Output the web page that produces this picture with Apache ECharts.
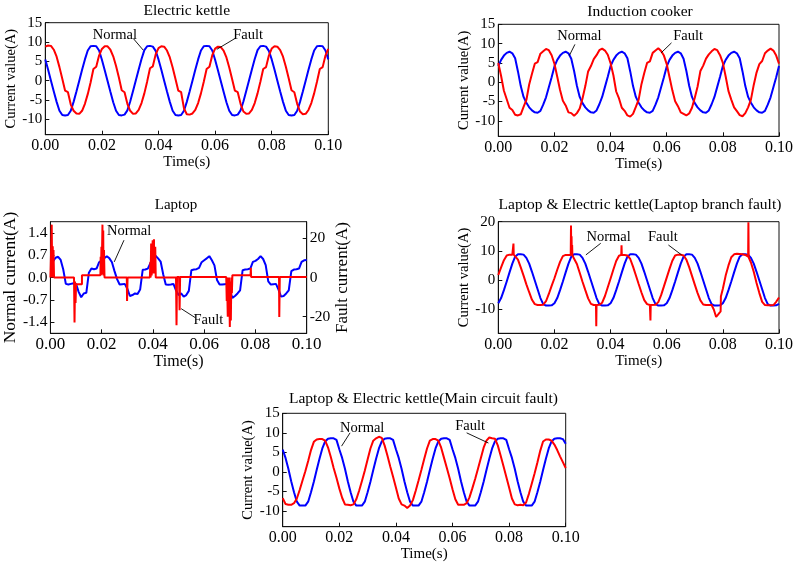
<!DOCTYPE html>
<html>
<head>
<meta charset="utf-8">
<script src="https://cdn.jsdelivr.net/npm/echarts@6/dist/echarts.min.js"></script>
<style>html,body{margin:0;padding:0;background:#fff}#c{width:796px;height:563px}</style>
</head>
<body>
<div id="c"></div>
<script>
const FONT = '"Liberation Serif","Times New Roman",serif';

// sample grid in milliseconds (0..100 ms, 1 ms step)
const TIME_MS = Array.from({length: 101}, (_, i) => i);

// x-axis tick labels (seconds)
const X_TICKS = [0, 0.02, 0.04, 0.06, 0.08, 0.10];
const Y_TICKS_15 = [-10, -5, 0, 5, 10, 15];
const Y_TICKS_20 = [-10, 0, 10, 20];
const Y_TICKS_LAPTOP = [-1.4, -0.7, 0, 0.7, 1.4];
const Y_TICKS_LAPTOP_R = [-20, 0, 20];

// ---- Electric kettle ----
const kettleNormal = [
 5.5, 2.8, 0.0, -2.8, -5.5, -7.8, -8.9, -9.0, -8.9, -7.8, -5.5, -2.8, 0.0, 2.8, 5.5, 7.8, 8.9, 9.0, 8.9, 7.8,
 5.4, 2.7, -0.1, -2.9, -5.6, -7.8, -8.9, -9.0, -8.8, -7.7, -5.4, -2.7, 0.1, 2.9, 5.6, 7.9, 8.9, 9.0, 8.8, 7.7,
 5.5, 2.8, 0.0, -2.8, -5.5, -7.8, -8.9, -9.0, -8.9, -7.8, -5.5, -2.8, 0.0, 2.8, 5.5, 7.8, 8.9, 9.0, 8.9, 7.8,
 5.4, 2.7, -0.1, -2.9, -5.6, -7.8, -8.9, -9.0, -8.8, -7.7, -5.4, -2.7, 0.1, 2.9, 5.6, 7.9, 8.9, 9.0, 8.8, 7.7,
 5.5, 2.8, 0.0, -2.8, -5.5, -7.8, -8.9, -9.0, -8.9, -7.8, -5.5, -2.8, 0.0, 2.8, 5.5, 7.8, 8.9, 9.0, 8.9, 7.8,
 5.5
];
const kettleFault = [
 8.8, 9.1, 9.0, 8.0, 6.2, 3.5, 0.5, -2.6, -3.0, -6.2, -7.8, -8.5, -8.6, -7.8, -6.0, -3.5, -0.5, 3.0, 3.6, 6.5,
 8.2, 8.9, 8.9, 8.0, 6.3, 3.8, 0.8, -2.5, -3.0, -6.0, -7.8, -8.6, -8.5, -7.6, -5.8, -3.3, -0.2, 3.2, 3.7, 6.8,
 8.4, 8.9, 8.8, 7.8, 6.0, 3.4, 0.4, -2.6, -3.0, -7.2, -8.7, -8.8, -8.5, -7.6, -5.8, -3.3, -0.3, 3.0, 3.6, 6.6,
 8.3, 8.8, 8.7, 7.8, 6.0, 3.4, 0.4, -2.6, -3.0, -6.0, -8.0, -8.6, -8.5, -7.6, -5.8, -3.3, -0.3, 3.0, 3.5, 6.5,
 8.3, 8.9, 8.8, 7.9, 6.2, 3.6, 0.6, -2.5, -3.0, -6.0, -8.0, -8.7, -8.6, -7.6, -5.8, -3.3, -0.3, 3.0, 3.5, 6.5,
 8.2
];

// ---- Induction cooker ----
const cookerNormal = [
 4.2, 5.8, 6.9, 7.6, 7.9, 7.5, 6.2, 2.8, -1.0, -3.8, -5.3, -6.5, -7.3, -7.8, -7.9, -7.4, -5.8, -3.9, -1.3, 1.3,
 4.1, 5.8, 6.9, 7.6, 7.9, 7.5, 6.1, 2.9, -0.9, -3.8, -5.4, -6.5, -7.3, -7.8, -7.9, -7.3, -5.7, -3.8, -1.2, 1.4,
 4.2, 5.8, 6.9, 7.6, 7.9, 7.5, 6.2, 2.8, -1.0, -3.8, -5.3, -6.5, -7.3, -7.8, -7.9, -7.4, -5.8, -3.9, -1.3, 1.3,
 4.1, 5.8, 6.9, 7.6, 7.9, 7.5, 6.1, 2.9, -0.9, -3.8, -5.4, -6.5, -7.3, -7.8, -7.9, -7.3, -5.7, -3.8, -1.2, 1.4,
 4.2, 5.8, 6.9, 7.6, 7.9, 7.5, 6.2, 2.8, -1.0, -3.8, -5.3, -6.5, -7.3, -7.8, -7.9, -7.4, -5.8, -3.9, -1.3, 1.3,
 4.2
];
const cookerFault = [
 5.0, 1.6, -2.2, -4.4, -6.6, -7.2, -8.4, -8.6, -8.3, -6.4, -4.6, -0.6, 2.2, 4.8, 5.2, 7.4, 8.0, 8.6, 8.3, 7.0,
 4.8, 1.4, -2.0, -4.8, -6.0, -7.8, -8.0, -8.7, -8.0, -6.8, -4.2, -1.0, 2.8, 4.2, 6.0, 7.0, 8.3, 8.7, 8.2, 7.1,
 4.9, 1.8, -2.4, -4.2, -6.6, -7.4, -8.6, -8.9, -8.2, -6.4, -4.5, -0.5, 2.4, 5.0, 5.4, 7.6, 8.2, 8.8, 8.1, 6.9,
 4.7, 1.3, -2.1, -4.9, -6.2, -7.8, -8.2, -8.6, -8.1, -6.6, -4.0, -1.1, 2.9, 4.3, 6.1, 7.2, 8.0, 8.6, 8.3, 7.0,
 5.0, 1.5, -2.3, -4.5, -6.5, -7.5, -8.5, -8.8, -8.0, -6.5, -4.5, -0.7, 2.5, 4.7, 5.5, 7.5, 8.2, 8.7, 8.2, 6.9,
 4.8
];

// ---- Laptop ----
const laptopNormal = [
 0.45, 0.5, 0.62, 0.65, 0.55, 0.25, -0.2, -0.22, -0.2, -0.18, -0.2, -0.45, -0.62, -0.5, -0.48, 0.15, 0.28, 0.26, 0.28, 0.48,
 0.54, 0.6, 0.67, 0.6, 0.48, 0.2, -0.05, -0.22, -0.21, -0.2, -0.35, -0.58, -0.55, -0.5, -0.52, -0.38, 0.24, 0.25, 0.28, 0.45,
 0.54, 0.68, 0.6, 0.5, 0.1, -0.22, -0.23, -0.22, -0.2, -0.4, -0.55, -0.5, -0.6, -0.55, -0.42, 0.23, 0.25, 0.26, 0.3, 0.48,
 0.54, 0.6, 0.67, 0.54, 0.38, -0.08, -0.22, -0.22, -0.21, -0.2, -0.42, -0.64, -0.58, -0.5, -0.4, 0.23, 0.25, 0.26, 0.28, 0.49,
 0.52, 0.58, 0.67, 0.58, 0.39, -0.12, -0.22, -0.21, -0.2, -0.38, -0.6, -0.58, -0.5, -0.4, 0.2, 0.25, 0.26, 0.28, 0.49, 0.54,
 0.55
];
// [time ms, current A]
const laptopFault = [
 [0,0],[0.4,0],[0.5,27],[0.7,0],[0.9,16],[1.0,0],[1.2,14],[1.4,0],
 [9.2,0],[9.4,-23],[9.6,-2],[9.8,-13],[10.0,-3.4],[12.3,-3.4],[12.3,1.2],
 [19.5,1.2],[19.6,10.6],[19.7,1.2],[19.9,15.7],[20.0,1.5],[20.3,27],[20.4,2],[20.6,24],[20.7,1],[20.9,14],[21.1,0],
 [29.8,0],[29.9,-12],[30.1,0],
 [38.8,0],[39.0,8],[39.1,0],[39.3,17.4],[39.5,1],[39.9,19],[40.0,2],[40.4,19.5],[40.5,2],[40.9,15.7],[41.1,0],
 [49.0,0],[49.2,-24.4],[49.4,0.3],[50.2,0.3],[50.4,-16.7],[50.6,0.3],
 [68.6,0.3],[68.8,-12],[68.9,0],[69.2,-20],[69.3,0],[69.6,-17],[69.7,0],[70.0,-25.3],[70.2,-2],[70.4,-22],[70.6,0],[70.8,-8],[71.0,1.2],
 [78.1,1.2],[78.2,5],[78.3,0.3],
 [89.2,0.3],[89.3,-20.2],[89.5,0.3],[100,0.3]
];

// ---- Laptop & Electric kettle (Laptop branch fault) ----
const branchNormal = [
 -8.0, -6.2, -3.5, -0.5, 2.6, 5.6, 8.0, 8.8, 8.8, 8.7, 7.6, 5.6, 2.8, -0.2, -3.2, -6.2, -8.3, -8.8, -8.8, -8.7,
 -8.0, -6.2, -3.5, -0.5, 2.6, 5.6, 8.0, 8.8, 8.8, 8.7, 7.6, 5.6, 2.8, -0.2, -3.2, -6.2, -8.3, -8.8, -8.8, -8.7,
 -8.0, -6.2, -3.5, -0.5, 2.6, 5.6, 8.0, 8.8, 8.8, 8.7, 7.6, 5.6, 2.8, -0.2, -3.2, -6.2, -8.3, -8.8, -8.8, -8.7,
 -8.0, -6.2, -3.5, -0.5, 2.6, 5.6, 8.0, 8.8, 8.8, 8.7, 7.6, 5.6, 2.8, -0.2, -3.2, -6.2, -8.3, -8.8, -8.8, -8.7,
 -8.0, -6.2, -3.5, -0.5, 2.6, 5.6, 8.0, 8.8, 8.8, 8.7, 7.6, 5.6, 2.8, -0.2, -3.2, -6.2, -8.3, -8.8, -8.8, -8.7,
 -8.2
];
// [time ms, current A]
const branchFault = [
 [0,1.7],[1,4.3],[2,6.8],[3,8.4],[4,8.7],[5,8.7],[5.3,8.7],[5.4,12.5],[5.5,8.7],[6,8.5],[7,7.0],[8,4.3],[9,1.5],
 [10,-1.5],[11,-4.2],[12,-6.8],[13,-8.3],[14,-8.6],[15,-8.6],[16,-8.5],[17,-7.3],[18,-4.8],[19,-2.0],
 [20,0.6],[21,3.5],[22,6.2],[23,8.2],[24,8.6],[25,8.6],[25.8,8.6],[25.9,18.7],[26.0,8.5],[26.1,15.0],[26.2,8.5],[26.3,12.0],[26.4,8.4],
 [27,8.0],[28,5.5],[29,2.5],[30,-0.6],[31,-3.5],[32,-6.3],[33,-8.2],[34,-8.6],[34.8,-8.6],[34.9,-15.9],[35.0,-8.6],
 [36,-8.5],[37,-7.8],[38,-5.5],[39,-2.5],[40,0.5],[41,3.6],[42,6.5],[43,8.3],[43.8,8.6],[43.9,11.9],[44.0,8.6],
 [45,8.6],[46,8.4],[47,7.2],[48,4.6],[49,1.6],[50,-1.4],[51,-4.3],[52,-6.9],[53,-8.3],[54,-8.6],[54.1,-8.6],[54.2,-13.9],[54.3,-8.6],
 [55,-8.6],[56,-8.5],[57,-7.6],[58,-5.2],[59,-2.2],[60,0.8],[61,3.8],[62,6.6],[63,8.4],[64,8.7],[65,8.7],[66,8.4],
 [67,7.0],[68,4.4],[69,1.4],[70,-1.6],[71,-4.5],[72,-7.0],[73,-8.4],[74,-8.6],[75,-8.6],[76,-8.6],
 [76.8,-10.2],[77.6,-12.7],[78.2,-12.0],[79.2,-10.8],[79.3,-5.7],[80,-3.0],[81,1.5],[82,5.0],[83,7.8],[84,8.8],
 [85,9.0],[86,8.9],[87,8.8],[88,8.6],[89,8.0],[89.1,19.8],[89.2,7.8],[90,6.0],[91,2.8],[92,-1.0],[93,-4.5],
 [94,-7.5],[95,-8.6],[96,-8.7],[97,-8.7],[98,-8.6],[99,-7.5],[100,-6.0]
];

// ---- Laptop & Electric kettle (Main circuit fault) ----
const mainNormal = [
 5.7, 3.6, 0.8, -2.4, -5.2, -7.6, -8.6, -8.6, -8.6, -7.6, -5.2, -2.5, 0.5, 3.4, 6.0, 7.8, 8.5, 8.6, 8.6, 8.2,
 5.8, 3.6, 0.8, -2.4, -5.2, -7.6, -8.6, -8.6, -8.6, -7.6, -5.2, -2.5, 0.5, 3.4, 6.0, 7.8, 8.5, 8.6, 8.6, 8.2,
 5.8, 3.6, 0.8, -2.4, -5.2, -7.6, -8.6, -8.6, -8.6, -7.6, -5.2, -2.5, 0.5, 3.4, 6.0, 7.8, 8.5, 8.6, 8.6, 8.2,
 5.8, 3.6, 0.8, -2.4, -5.2, -7.6, -8.6, -8.6, -8.6, -7.6, -5.2, -2.5, 0.5, 3.4, 6.0, 7.8, 8.5, 8.6, 8.6, 8.2,
 5.8, 3.6, 0.8, -2.4, -5.2, -7.6, -8.6, -8.6, -8.6, -7.6, -5.2, -2.5, 0.5, 3.4, 6.0, 7.8, 8.5, 8.6, 8.6, 8.4,
 7.2
];
const mainFault = [
 -6.7, -8.2, -8.4, -8.4, -8.0, -6.8, -4.6, -2.2, 0.2, 2.8, 5.6, 7.7, 8.3, 8.4, 8.4, 8.0, 6.3, 3.8, 1.0, -1.5,
 -4.2, -6.6, -8.3, -8.4, -8.5, -8.3, -7.0, -4.8, -2.3, 0.3, 3.2, 6.0, 8.0, 8.6, 9.0, 8.7, 6.8, 4.2, 1.4, -1.2,
 -4.0, -6.8, -8.3, -8.6, -9.2, -8.6, -7.2, -4.8, -2.2, 0.5, 3.3, 6.0, 8.0, 8.4, 8.4, 8.0, 6.2, 3.6, 1.0, -1.6,
 -4.4, -7.0, -8.4, -8.4, -8.4, -8.0, -6.5, -4.2, -1.8, 0.8, 3.5, 6.2, 8.0, 8.8, 8.6, 8.5, 6.8, 4.2, 1.5, -1.2,
 -4.0, -6.8, -8.3, -8.5, -8.4, -8.5, -7.8, -5.6, -3.0, -0.4, 2.4, 5.4, 7.8, 8.3, 8.3, 8.0, 7.0, 5.6, 4.0, 2.5,
 1.0
];

// ---------------- helpers ----------------
const onGrid = vals => TIME_MS.map((t, i) => [t / 1000, vals[i]]);
const msPairs = list => list.map(p => [p[0] / 1000, p[1]]);

const BLUE = '#0000ff', RED = '#ff0000';

const grids = [
  {left: 45.3, top: 22.7, width: 283, height: 112},
  {left: 498.3, top: 24.3, width: 283.4, height: 112},
  {left: 45.3, top: 221.7, width: 261.4, height: 111.6},
  {left: 498.3, top: 221.7, width: 283.4, height: 111.6},
  {left: 282.7, top: 413.3, width: 283, height: 113.4}
].map(g => Object.assign({show: true, borderColor: '#111', borderWidth: 1, backgroundColor: 'transparent'}, g));

function xAx(gi, fs, nfs, gap) {
  return {
    type: 'value', gridIndex: gi, min: 0, max: 0.1, interval: 0.02,
    name: 'Time(s)', nameLocation: 'middle', nameGap: gap,
    nameTextStyle: {fontFamily: FONT, fontSize: nfs, color: '#000'},
    axisLine: {show: true, onZero: false, lineStyle: {color: '#111', width: 1}},
    axisTick: {show: true, inside: true, length: 4, customValues: X_TICKS, lineStyle: {color: '#111'}},
    axisLabel: {fontFamily: FONT, fontSize: fs, color: '#000', margin: 3, customValues: X_TICKS,
      formatter: v => v.toFixed(2)},
    splitLine: {show: false}
  };
}
function yAx(gi, min, max, ticks, dec, name, fs, nfs, gap, pos) {
  return {
    type: 'value', gridIndex: gi, min: min, max: max, position: pos || 'left',
    name: name, nameLocation: 'middle', nameGap: gap, nameRotate: 90,
    nameTextStyle: {fontFamily: FONT, fontSize: nfs, color: '#000'},
    axisLine: {show: true, onZero: false, lineStyle: {color: '#111', width: 1}},
    axisTick: {show: true, inside: true, length: 4, customValues: ticks, lineStyle: {color: '#111'}},
    axisLabel: {fontFamily: FONT, fontSize: fs, color: '#000', margin: 3, customValues: ticks,
      formatter: v => dec ? v.toFixed(dec) : String(v)},
    splitLine: {show: false}
  };
}

function note(label, text, line, fs) {
  return {
    markLine: {
      silent: true, animation: false, symbol: ['none', 'none'],
      lineStyle: {color: '#000', width: 0.9, type: 'solid'},
      label: {show: false}, emphasis: {disabled: true},
      data: [[{coord: line[0]}, {coord: line[1]}]]
    },
    markPoint: {
      silent: true, animation: false, symbol: 'circle', symbolSize: 0,
      itemStyle: {color: 'rgba(0,0,0,0)'},
      label: {show: true, position: 'inside', formatter: '{b}', color: '#000',
        fontFamily: FONT, fontSize: fs || 14.5},
      data: [{name: label, coord: text}]
    }
  };
}

function line(name, data, color, xi, yi, extra) {
  return Object.assign({
    name: name, type: 'line', xAxisIndex: xi, yAxisIndex: yi, data: data,
    showSymbol: false, symbol: 'none', animation: false,
    lineStyle: {color: color, width: 2}, itemStyle: {color: color},
    emphasis: {disabled: true}
  }, extra || {});
}

function ttl(text, x, y, fs) {
  return {text: text, left: x, top: y, textAlign: 'center', textVerticalAlign: 'middle', padding: 0,
    textStyle: {fontFamily: FONT, fontSize: fs || 15.5, fontWeight: 'normal', color: '#000'}};
}

const option = {
  backgroundColor: '#fff',
  animation: false,
  title: [
    ttl('Electric kettle', 186.8, 10.5),
    ttl('Induction cooker', 640, 11.5),
    ttl('Laptop', 176, 205, 15),
    ttl('Laptop & Electric kettle(Laptop branch fault)', 640, 204.5),
    ttl('Laptop & Electric kettle(Main circuit fault)', 423.5, 398.5)
  ],
  grid: grids,
  xAxis: [xAx(0, 16, 15, 18), xAx(1, 16, 15, 20), xAx(2, 17, 16, 18), xAx(3, 16, 15, 18), xAx(4, 16, 15, 18)],
  yAxis: [
    yAx(0, -14, 15, Y_TICKS_15, 0, 'Current value(A)', 15, 14.5, 23),
    yAx(1, -14, 15, Y_TICKS_15, 0, 'Current value(A)', 15, 14.5, 23),
    yAx(2, -1.75, 1.75, Y_TICKS_LAPTOP, 1, 'Normal current(A)', 15.5, 17.5, 26),
    yAx(2, -28.5, 28.5, Y_TICKS_LAPTOP_R, 0, 'Fault current(A)', 15.5, 17, 25, 'right'),
    yAx(3, -18.3, 20, Y_TICKS_20, 0, 'Current value(A)', 15, 14.5, 23),
    yAx(4, -14, 15, Y_TICKS_15, 0, 'Current value(A)', 15, 14.5, 22)
  ],
  series: [
    line('Normal', onGrid(kettleNormal), BLUE, 0, 0,
      note('Normal', [0.0246, 11.8], [[0.0311, 10.9], [0.0346, 7.9]])),
    line('Fault', onGrid(kettleFault), RED, 0, 0,
      note('Fault', [0.0717, 11.8], [[0.0670, 10.9], [0.0606, 8.1]])),
    line('Normal', onGrid(cookerNormal), BLUE, 1, 1,
      note('Normal', [0.0289, 11.9], [[0.0273, 9.8], [0.0253, 6.9]])),
    line('Fault', onGrid(cookerFault), RED, 1, 1,
      note('Fault', [0.0676, 11.9], [[0.0617, 10.2], [0.0580, 7.6]])),
    line('Normal', onGrid(laptopNormal), BLUE, 2, 2,
      note('Normal', [0.0307, 1.45], [[0.0287, 1.17], [0.0249, 0.49]])),
    line('Fault', msPairs(laptopFault), RED, 2, 3,
      note('Fault', [0.0616, -21.9], [[0.0565, -20.5], [0.0510, -15.9]])),
    line('Normal', onGrid(branchNormal), BLUE, 3, 4,
      note('Normal', [0.0393, 14.8], [[0.0365, 12.6], [0.0312, 8.6]])),
    line('Fault', msPairs(branchFault), RED, 3, 4,
      note('Fault', [0.0586, 14.8], [[0.0606, 12.0], [0.0653, 8.6]])),
    line('Normal', onGrid(mainNormal), BLUE, 4, 5,
      note('Normal', [0.0281, 11.3], [[0.0238, 10.0], [0.0208, 6.6]])),
    line('Fault', onGrid(mainFault), RED, 4, 5,
      note('Fault', [0.0662, 11.7], [[0.0650, 10.0], [0.0727, 7.4]]))
  ]
};

const chart = echarts.init(document.getElementById('c'), null, {renderer: 'canvas'});
chart.setOption(option);
</script>
</body>
</html>
